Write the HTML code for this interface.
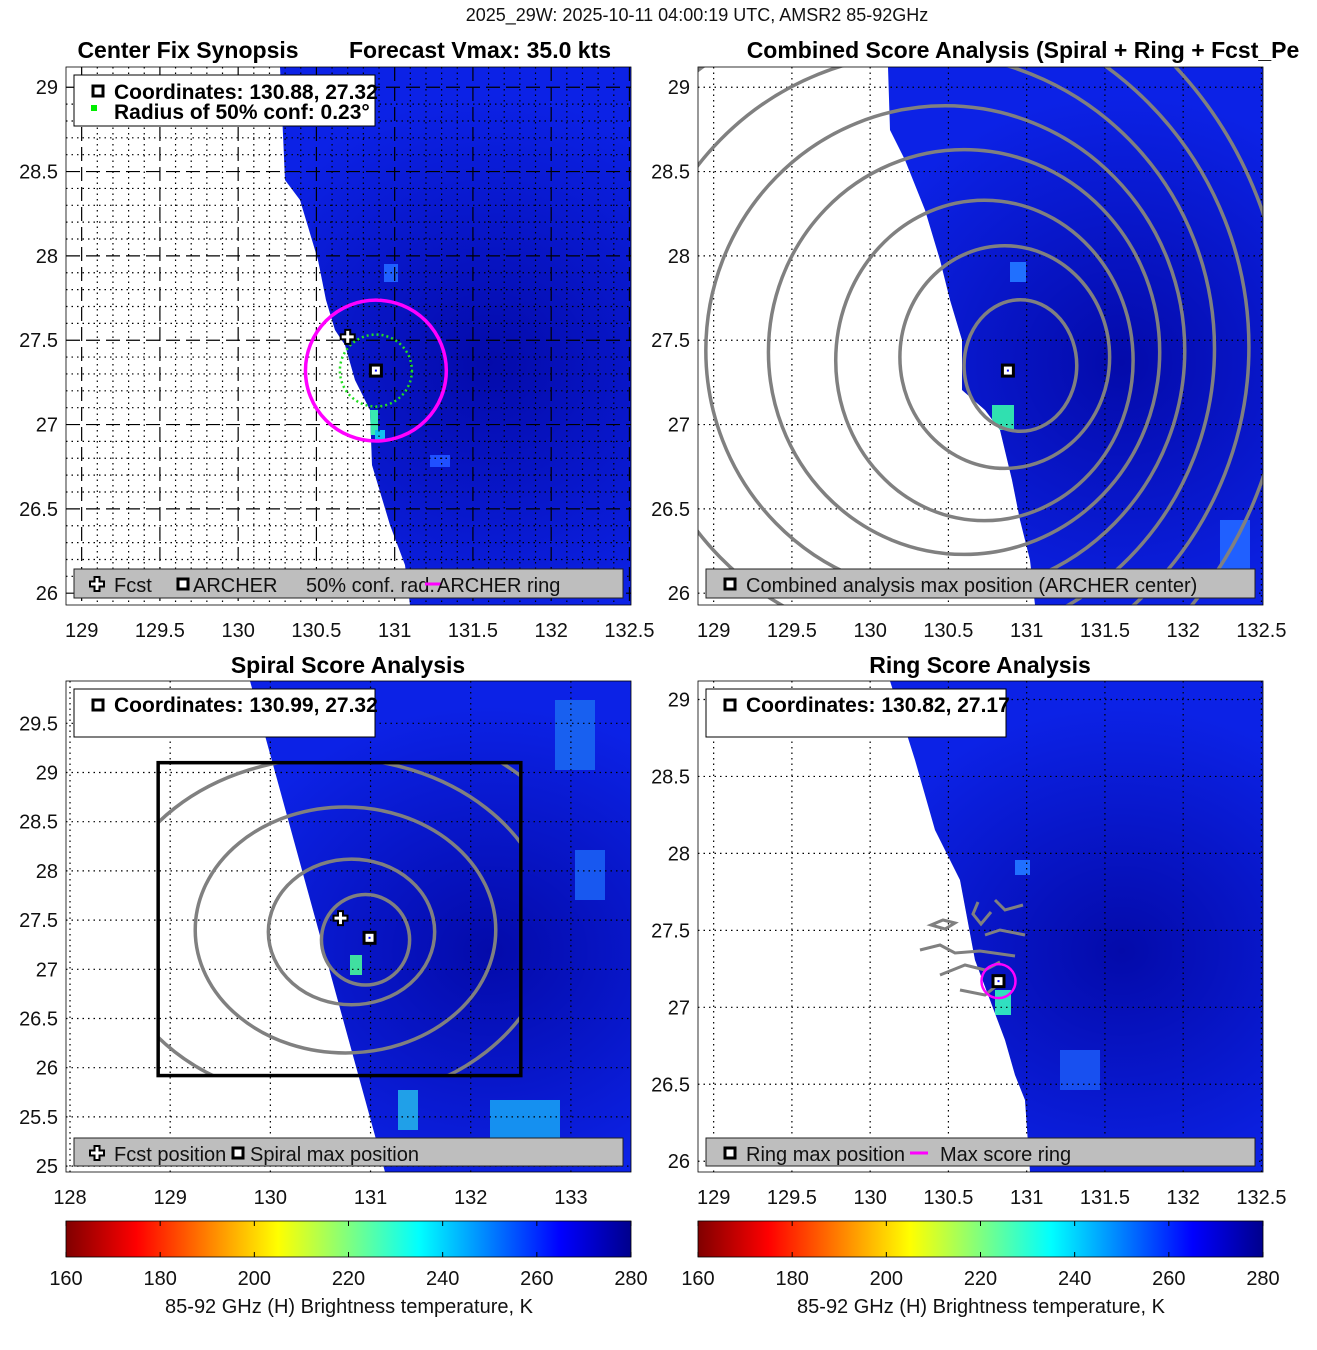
<!DOCTYPE html>
<html><head><meta charset="utf-8">
<style>
body{margin:0;background:#fff;}
svg{display:block;font-family:"Liberation Sans",sans-serif;}
.t{font-size:20px;fill:#111;}
.b{font-size:23px;font-weight:bold;fill:#000;}
</style></head>
<body>
<svg id="fig" width="1317" height="1350" viewBox="0 0 1317 1350" xmlns="http://www.w3.org/2000/svg">
<defs>
<linearGradient id="jet" x1="0" x2="1" y1="0" y2="0">
<stop offset="0" stop-color="#800000"/><stop offset="0.125" stop-color="#ff0000"/>
<stop offset="0.375" stop-color="#ffff00"/><stop offset="0.625" stop-color="#00ffff"/>
<stop offset="0.875" stop-color="#0000ff"/><stop offset="1" stop-color="#00008c"/>
</linearGradient>
<radialGradient id="dark" cx="0.75" cy="0.55" r="0.5"><stop offset="0" stop-color="#000090" stop-opacity="0.7"/><stop offset="1" stop-color="#000090" stop-opacity="0"/></radialGradient>
</defs>
<text x="697" y="21" text-anchor="middle" style="font-size:18px" fill="#111">2025_29W: 2025-10-11 04:00:19 UTC, AMSR2 85-92GHz</text>
</svg>
<script>
// ---- data ----
const colorbarTicks=[160,180,200,220,240,260,280];
const p1XTicks=[129,129.5,130,130.5,131,131.5,132,132.5];
const p1YTicks=[26,26.5,27,27.5,28,28.5,29];
const p3XTicks=[128,129,130,131,132,133];
const p3YTicks=[25,25.5,26,26.5,27,27.5,28,28.5,29,29.5];
const p4YTicks=[26,26.5,27,27.5,28,28.5,29];
const archerCenter=[130.88,27.32];
const fcstCenter=[130.7,27.52];
const confRadius=0.23;
const ringRadius=0.45;
const spiralCenter=[130.99,27.32];
const ringCenter=[130.82,27.17];
// combined contours: lon, lat, rx, ry
const combLon=[130.96,130.86,130.73,130.60,130.48,130.35,130.22,130.10];
const combLat=[27.35,27.40,27.38,27.43,27.44,27.45,27.46,27.47];
const combRx=[0.36,0.67,0.95,1.25,1.53,1.85,2.2,2.55];
const combRy=[0.39,0.66,0.95,1.2,1.45,1.75,2.05,2.4];
// spiral contours
const spLon=[130.95,130.81,130.75,130.6,130.5];
const spLat=[27.3,27.38,27.4,27.4,27.3];
const spRx=[0.44,0.83,1.5,2.2,2.9];
const spRy=[0.46,0.74,1.25,1.75,2.3];
const spBox=[128.88,132.5,25.92,29.1];

const NS='http://www.w3.org/2000/svg';
const svg=document.getElementById('fig');
function el(tag,attrs,parent){const e=document.createElementNS(NS,tag);for(const k in attrs)e.setAttribute(k,attrs[k]);(parent||svg).appendChild(e);return e;}
function txt(x,y,s,cls,anchor,parent){const e=el('text',{x:x,y:y,class:cls,'text-anchor':anchor||'middle'},parent);e.textContent=s;return e;}

function makePanel(id,px0,px1,py0,py1,lon0,lon1,lat0,lat1){
  const g=el('g',{});
  
  
  const cp=el('clipPath',{id:'clip-'+id},g);el('rect',{x:px0,y:py0,width:px1-px0,height:py1-py0},cp);
  const X=v=>px0+(v-lon0)/(lon1-lon0)*(px1-px0);
  const Y=v=>py1-(v-lat0)/(lat1-lat0)*(py1-py0);
  const inner=el('g',{'clip-path':'url(#clip-'+id+')'},g);
  return {g,inner,X,Y,px0,px1,py0,py1};
}
function field(P,poly,extra){
  const f=el('polygon',{points:poly,fill:'#0c22e6'},P.inner);
  
  
  const cpId='f'+Math.round(P.px0)+Math.round(P.py0);
  const cp=el('clipPath',{id:cpId},P.inner);el('polygon',{points:poly},cp);
  el('rect',{x:P.px0,y:P.py0,width:P.px1-P.px0,height:P.py1-P.py0,fill:'url(#dark)','clip-path':'url(#'+cpId+')'},P.inner);
  (extra||[]).forEach(r=>el('rect',{x:r[0],y:r[1],width:r[2],height:r[3],fill:r[4],'clip-path':'url(#'+cpId+')'},P.inner));
}
function grid(P,xt,yt,dash,minorX,minorY){
  if(minorX){minorX.forEach(v=>el('line',{x1:P.X(v),x2:P.X(v),y1:P.py0,y2:P.py1,stroke:'#000','stroke-width':1.2,'stroke-dasharray':'1.5,4'},P.inner));
    minorY.forEach(v=>el('line',{y1:P.Y(v),y2:P.Y(v),x1:P.px0,x2:P.px1,stroke:'#000','stroke-width':1.2,'stroke-dasharray':'1.5,4'},P.inner));}
  xt.forEach(v=>el('line',{x1:P.X(v),x2:P.X(v),y1:P.py0,y2:P.py1,stroke:'#000','stroke-width':1.2,'stroke-dasharray':dash},P.inner));
  yt.forEach(v=>el('line',{y1:P.Y(v),y2:P.Y(v),x1:P.px0,x2:P.px1,stroke:'#000','stroke-width':1.2,'stroke-dasharray':dash},P.inner));
}
function ticks(P,xt,yt){
  xt.forEach(v=>{const t=txt(P.X(v),P.py1+32,String(v),'t');});
  yt.forEach(v=>{const t=txt(P.px0-8,P.Y(v)+7,String(v),'t','end');});
}
function ellipses(P,lon,lat,rx,ry,clipId){
  const g=el('g',clipId?{'clip-path':'url(#'+clipId+')'}:{},P.inner);
  for(let i=0;i<lon.length;i++){
    const e=el('ellipse',{cx:P.X(lon[i]),cy:P.Y(lat[i]),rx:Math.abs(P.X(lon[i]+rx[i])-P.X(lon[i])),ry:Math.abs(P.Y(lat[i]+ry[i])-P.Y(lat[i])),fill:'none',stroke:'#808080','stroke-width':3.5},g);
    
    
  }
}
function archerMark(P,c){
  const x=P.X(c[0]),y=P.Y(c[1]);
  const r=el('rect',{x:x-5.5,y:y-5.5,width:11,height:11,fill:'#fff',stroke:'#000','stroke-width':3},P.inner);
  
  
  el('rect',{x:x-1,y:y-1,width:2,height:2,fill:'#0000ff'},P.inner);
}
function plusMark(parent,x,y){
  const p=el('path',{d:`M${x-2.5},${y-7}h5v4.5h4.5v5h-4.5v4.5h-5v-4.5h-4.5v-5h4.5z`,fill:'#fff',stroke:'#000','stroke-width':2},parent);
  
  
}
function sqMark(parent,x,y){el('rect',{x:x-5,y:y-5,width:10,height:10,fill:'#fff',stroke:'#000','stroke-width':3},parent);}
function border(P){el('rect',{x:P.px0,y:P.py0,width:P.px1-P.px0,height:P.py1-P.py0,fill:'none',stroke:'#000','stroke-width':0.8},P.g);}
function legendBar(x,y,w,h,parent,name){const r=el('rect',{x:x,y:y,width:w,height:h,fill:'#bebebe',stroke:'#222','stroke-width':1},parent);}
function infoBox(x,y,w,h,parent){const r=el('rect',{x:x,y:y,width:w,height:h,fill:'#fff',stroke:'#000','stroke-width':1},parent);}

// ---- Panel 1 ----
const P1=makePanel('center-fix-panel',66,631,67,605,128.9,132.51,25.93,29.12);
field(P1,'280,67 631,67 631,605 410,605 405,565 390,525 372,465 370,410 355,380 345,345 335,330 326,300 318,260 300,200 285,180',
 [[360,410,18,25,'#38e8b0'],[375,430,10,12,'#10c0f0'],[384,264,14,18,'#2060ff'],[430,455,20,12,'#2050ff']]);
const mX=[],mY=[];for(let v=129;v<=132.5;v+=0.1){if(Math.abs(v*2-Math.round(v*2))>0.01)mX.push(+v.toFixed(1));}
for(let v=26;v<=29.1;v+=0.1){if(Math.abs(v*2-Math.round(v*2))>0.01)mY.push(+v.toFixed(1));}
grid(P1,p1XTicks,p1YTicks,'14,6',mX,mY);
(function(){
  const c1=el('circle',{cx:P1.X(archerCenter[0]),cy:P1.Y(archerCenter[1]),r:P1.X(archerCenter[0]+confRadius)-P1.X(archerCenter[0]),fill:'none',stroke:'#22dd22','stroke-width':2.5,'stroke-dasharray':'2,3'},P1.inner);
  
  const c2=el('circle',{cx:P1.X(archerCenter[0]),cy:P1.Y(archerCenter[1]),r:P1.X(archerCenter[0]+ringRadius)-P1.X(archerCenter[0]),fill:'none',stroke:'#ff00ff','stroke-width':3.5},P1.inner);
  
})();
plusMark(P1.inner,P1.X(fcstCenter[0]),P1.Y(fcstCenter[1]));
archerMark(P1,archerCenter);
border(P1);ticks(P1,p1XTicks,p1YTicks);
infoBox(74,75,301,51,P1.g);
sqMark(P1.g,98,91);txt(114,99,'Coordinates: 130.88, 27.32','b','start',P1.g).style.fontSize='21px';
el('rect',{x:91,y:105,width:6,height:6,fill:'#00ee00'},P1.g);txt(114,119,'Radius of 50% conf: 0.23°','b','start',P1.g).style.fontSize='21px';
legendBar(74,569,549,29,P1.g,'legend-panel1');
plusMark(P1.g,97,584);txt(114,592,'Fcst','t','start',P1.g);
sqMark(P1.g,183,584);txt(193,592,'ARCHER','t','start',P1.g);
txt(306,592,'50% conf. rad.','t','start',P1.g);
el('line',{x1:425,x2:441,y1:584,y2:584,stroke:'#ff00ff','stroke-width':3},P1.g);
txt(437,592,'ARCHER ring','t','start',P1.g);
txt(188,58,'Center Fix Synopsis','b','middle',P1.g);
txt(480,58,'Forecast Vmax: 35.0 kts','b','middle',P1.g);

// ---- Panel 2 ----
const P2=makePanel('combined-score-panel',698,1263,67,605,128.9,132.51,25.93,29.12);
field(P2,'888,67 1263,67 1263,605 1035,605 1030,560 1020,520 1012,480 1000,430 985,410 962,390 962,340 950,300 940,260 925,210 905,160 890,130',
 [[992,405,22,25,'#30e0b0'],[1010,262,16,20,'#2070ff'],[1220,520,30,50,'#2060ff']]);
grid(P2,p1XTicks,p1YTicks,'1.5,4');
ellipses(P2,combLon,combLat,combRx,combRy);
archerMark(P2,archerCenter);
border(P2);ticks(P2,p1XTicks,p1YTicks);
legendBar(706,569,549,29,P2.g,'legend-panel2');
sqMark(P2.g,730,584);txt(746,592,'Combined analysis max position (ARCHER center)','t','start',P2.g);
txt(1023,58,'Combined Score Analysis (Spiral + Ring + Fcst_Pe','b','middle',P2.g);

// ---- Panel 3 ----
const P3=makePanel('spiral-score-panel',66,631,681,1172,127.96,133.6,24.94,29.93);
field(P3,'250,681 631,681 631,1172 385,1172',
 [[555,700,40,70,'#1860f0'],[575,850,30,50,'#1858f0'],[490,1100,70,40,'#1590f0'],[398,1090,20,40,'#20a0e8'],[350,955,12,20,'#40e0a0']]);
grid(P3,p3XTicks,p3YTicks,'1.5,4');
(function(){const cp=el('clipPath',{id:'spbox'},P3.inner);el('rect',{x:P3.X(spBox[0]),y:P3.Y(spBox[3]),width:P3.X(spBox[1])-P3.X(spBox[0]),height:P3.Y(spBox[2])-P3.Y(spBox[3])},cp);})();
ellipses(P3,spLon,spLat,spRx,spRy,'spbox');
(function(){const r=el('rect',{x:P3.X(spBox[0]),y:P3.Y(spBox[3]),width:P3.X(spBox[1])-P3.X(spBox[0]),height:P3.Y(spBox[2])-P3.Y(spBox[3]),fill:'none',stroke:'#000','stroke-width':3.5},P3.inner);})();
plusMark(P3.inner,P3.X(fcstCenter[0]),P3.Y(fcstCenter[1]));
archerMark(P3,spiralCenter);
border(P3);ticks(P3,p3XTicks,p3YTicks);
infoBox(74,689,301,48,P3.g);
sqMark(P3.g,98,705);txt(114,712,'Coordinates: 130.99, 27.32','b','start',P3.g).style.fontSize='21px';
legendBar(74,1138,549,28,P3.g,'legend-panel3');
plusMark(P3.g,97,1153);txt(114,1161,'Fcst position','t','start',P3.g);
sqMark(P3.g,238,1153);txt(250,1161,'Spiral max position','t','start',P3.g);
txt(348,673,'Spiral Score Analysis','b','middle',P3.g);

// ---- Panel 4 ----
const P4=makePanel('ring-score-panel',698,1263,681,1172,128.9,132.51,25.93,29.12);
field(P4,'890,681 1263,681 1263,1172 1030,1172 1025,1100 1015,1075 1005,1040 990,1000 975,960 960,880 935,830 915,760',
 [[995,990,16,25,'#30e0c0'],[1015,860,15,15,'#2070ff'],[1060,1050,40,40,'#1850f0']]);
grid(P4,p1XTicks,p4YTicks,'1.5,4');
(function(){
  const sq=['M931,925 l12,-5 12,3 -10,6z','M978,902 l-5,12 8,10 10,-12','M920,950 l20,-5 15,8 25,-2 35,5','M940,975 l25,-10 20,5 15,-8','M960,990 l25,5 15,-12','M995,900 l10,10 18,-5','M985,935 l15,-5 25,5'];
  sq.forEach(d=>{const p=el('path',{d:d,fill:'none',stroke:'#808080','stroke-width':3},P4.inner);});
  const c=el('circle',{cx:P4.X(ringCenter[0]),cy:P4.Y(ringCenter[1]),r:17,fill:'none',stroke:'#ff00ff','stroke-width':2.5},P4.inner);
  
})();
archerMark(P4,ringCenter);
border(P4);ticks(P4,p1XTicks,p4YTicks);
infoBox(706,689,300,48,P4.g);
sqMark(P4.g,730,705);txt(746,712,'Coordinates: 130.82, 27.17','b','start',P4.g).style.fontSize='21px';
legendBar(706,1138,549,28,P4.g,'legend-panel4');
sqMark(P4.g,730,1153);txt(746,1161,'Ring max position','t','start',P4.g);
el('line',{x1:910,x2:928,y1:1153,y2:1153,stroke:'#ff00ff','stroke-width':3},P4.g);
txt(940,1161,'Max score ring','t','start',P4.g);
txt(980,673,'Ring Score Analysis','b','middle',P4.g);

// ---- Colorbars ----
[66,698].forEach((x0,i)=>{
  const g=el('g',{});
  
  
  el('rect',{x:x0,y:1221,width:565,height:36,fill:'url(#jet)',stroke:'#000','stroke-width':0.8},g);
  colorbarTicks.forEach(v=>{const x=x0+(v-160)/120*565;el('line',{x1:x,x2:x,y1:1221,y2:1226,stroke:'#000'},g);el('line',{x1:x,x2:x,y1:1252,y2:1257,stroke:'#000'},g);txt(x,1285,String(v),'t','middle',g);});
  txt(x0+283,1313,'85-92 GHz (H) Brightness temperature, K','t','middle',g);
});
</script>
</body></html>
